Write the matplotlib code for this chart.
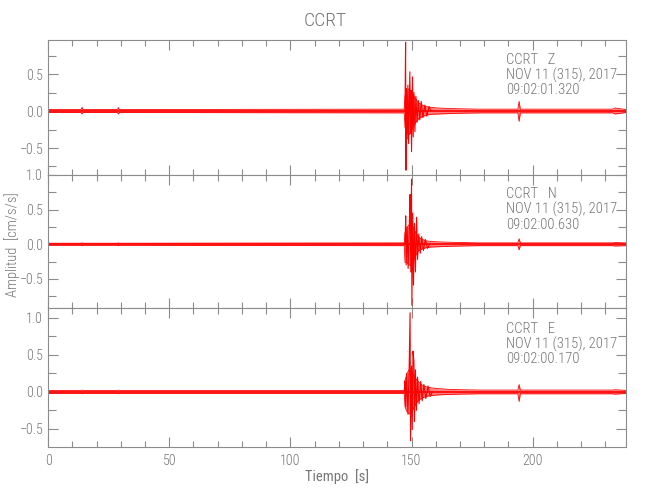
import matplotlib
matplotlib.use("Agg")
import matplotlib.pyplot as plt
from matplotlib import font_manager
from matplotlib.ticker import MultipleLocator

# pick a narrow face if there is one (the original uses a thin vector font)
installed = {f.name for f in font_manager.fontManager.ttflist}
for name in ["Liberation Sans Narrow", "Roboto Condensed", "Open Sans Condensed",
             "Noto Sans Condensed", "Liberation Sans"]:
    if name in installed:
        break
narrow = name in ("Liberation Sans Narrow", "Roboto Condensed",
                  "Open Sans Condensed", "Noto Sans Condensed")
plt.rcParams["font.family"] = [name, "DejaVu Sans"]
plt.rcParams["font.weight"] = "light"
fs = 10 if narrow else 8.5

station = "CCRT"
date_line = "NOV 11 (315), 2017"
components = ["Z", "N", "E"]
start_times = ["09:02:01.320", "09:02:00.630", "09:02:00.170"]
ylims = [(-0.865, 0.96), (-0.92, 1.0), (-0.745, 1.135)]

# envelope of the dense noise band (time s, upper, lower)
env_t = [0, 13.6, 14.0, 14.4, 28.6, 29.0, 29.4, 147.0, 147.3, 148.0, 149.0,
         150.0, 151.0, 152.0, 153.0, 154.5, 156.0, 158.0, 161.0, 165.0,
         170.0, 178.0, 193.9, 194.4, 194.9, 233.0, 234.0, 238.5]
env_hi = {
    "Z": [0.02, 0.02, 0.05, 0.02, 0.02, 0.045, 0.02, 0.025, 0.20, 0.26, 0.30,
          0.26, 0.20, 0.15, 0.11, 0.08, 0.06, 0.05, 0.04, 0.035, 0.03, 0.025,
          0.025, 0.13, 0.025, 0.025, 0.04, 0.02],
    "N": [0.015, 0.015, 0.02, 0.015, 0.015, 0.02, 0.015, 0.02, 0.16, 0.24,
          0.28, 0.30, 0.22, 0.15, 0.10, 0.07, 0.05, 0.04, 0.035, 0.03, 0.025,
          0.02, 0.02, 0.08, 0.02, 0.02, 0.025, 0.02],
    "E": [0.02, 0.02, 0.025, 0.02, 0.02, 0.025, 0.02, 0.02, 0.15, 0.24, 0.30,
          0.28, 0.22, 0.17, 0.13, 0.09, 0.07, 0.055, 0.045, 0.035, 0.03, 0.025,
          0.025, 0.10, 0.025, 0.025, 0.03, 0.02],
}
env_lo = {
    "Z": [-0.02, -0.02, -0.04, -0.02, -0.02, -0.04, -0.02, -0.025, -0.22,
          -0.28, -0.32, -0.26, -0.19, -0.14, -0.10, -0.075, -0.055, -0.045,
          -0.04, -0.035, -0.03, -0.025, -0.025, -0.14, -0.025, -0.025, -0.04,
          -0.02],
    "N": [-0.015, -0.015, -0.02, -0.015, -0.015, -0.02, -0.015, -0.02, -0.26,
          -0.26, -0.30, -0.30, -0.22, -0.14, -0.09, -0.065, -0.05, -0.04,
          -0.035, -0.03, -0.025, -0.02, -0.02, -0.08, -0.02, -0.02, -0.025,
          -0.02],
    "E": [-0.02, -0.02, -0.025, -0.02, -0.02, -0.025, -0.02, -0.02, -0.20,
          -0.26, -0.30, -0.28, -0.21, -0.15, -0.11, -0.08, -0.06, -0.05,
          -0.04, -0.035, -0.03, -0.025, -0.025, -0.13, -0.025, -0.025, -0.03,
          -0.02],
}

# individual large swings of the main arrival and its coda
spike_t = {
    "Z": [147.3, 147.55, 147.7, 147.9, 148.2, 148.5, 148.8, 149.3, 149.6,
          149.8, 150.0, 150.4, 150.7, 151.0, 151.4, 151.8, 152.3, 152.8, 153.4,
          154.0, 154.7, 155.5, 156.3, 157.2, 158.0],
    "N": [147.3, 147.6, 147.8, 148.2, 148.6, 149.1, 149.4, 149.7, 150.0,
          150.15, 150.5, 150.8, 151.2, 151.6, 152.1, 152.5, 153.0, 153.6,
          154.2, 154.9, 155.7, 156.6, 157.5],
    "E": [147.0, 147.3, 147.6, 148.0, 148.5, 149.0, 149.4, 149.6, 150.0,
          150.3, 150.6, 151.0, 151.2, 151.6, 152.0, 152.5, 153.1, 153.8,
          154.4, 155.1, 155.9, 156.8, 157.7, 158.6],
}
spike_v = {
    "Z": [0.0, 0.93, -0.80, 0.30, -0.38, 0.35, -0.44, 0.53, -0.30, 0.28,
          -0.55, 0.46, -0.35, 0.25, -0.28, 0.20, -0.15, 0.14, -0.12, 0.13,
          -0.09, 0.08, -0.07, 0.06, 0.0],
    "N": [0.0, 0.41, -0.30, 0.25, -0.35, 0.30, 0.72, -0.40, 0.94, -0.88,
          0.45, -0.59, 0.30, -0.40, 0.39, -0.22, 0.15, -0.13, 0.11, -0.09,
          0.07, -0.06, 0.0],
    "E": [0.0, 0.15, -0.20, 0.25, -0.30, 0.30, 1.07, -0.66, 0.35, -0.51,
          0.55, 0.41, -0.40, 0.30, -0.25, 0.20, -0.16, 0.14, -0.12, 0.10,
          -0.09, 0.08, -0.06, 0.0],
}

grey = "#8c8c8c"
text_grey = "#767676"

fig = plt.figure(figsize=(6.5, 5), dpi=100)
rects = [(0.074, 0.650, 0.889, 0.270),
         (0.074, 0.384, 0.889, 0.266),
         (0.074, 0.106, 0.889, 0.278)]

axes = []
for i, comp in enumerate(components):
    ax = fig.add_axes(rects[i])
    ax.fill_between(env_t, env_lo[comp], env_hi[comp], color="red",
                    alpha=0.5, lw=0)
    ax.plot(env_t, env_hi[comp], color="red", lw=0.6)
    ax.plot(env_t, env_lo[comp], color="red", lw=0.6)
    ax.plot(spike_t[comp], spike_v[comp], color="red", lw=0.8)
    ax.axhline(0, color="red", lw=1.2)

    ax.set_xlim(0, 238.5)
    ax.set_ylim(*ylims[i])
    ax.xaxis.set_major_locator(MultipleLocator(50))
    ax.xaxis.set_minor_locator(MultipleLocator(10))
    ax.yaxis.set_major_locator(MultipleLocator(0.5))
    ax.yaxis.set_minor_locator(MultipleLocator(0.25))
    ax.yaxis.set_major_formatter("{x:.1f}")
    ax.tick_params(which="both", direction="in", top=True, right=True,
                   color=grey, labelcolor=text_grey, labelsize=fs)
    ax.tick_params(which="major", length=7, width=0.8)
    ax.tick_params(which="minor", length=4, width=0.8)
    ax.tick_params(axis="y", which="minor", length=6)
    ax.tick_params(axis="x", pad=5)
    for s in ax.spines.values():
        s.set_color(grey)
        s.set_linewidth(0.8)
    if i < 2:
        ax.tick_params(labelbottom=False)
    ax.text(0.793, 0.74, f"{station}   {comp}\n{date_line}\n{start_times[i]}",
            transform=ax.transAxes, ha="left", va="center", fontsize=fs + 0.5,
            color=text_grey, linespacing=1.05)
    axes.append(ax)

axes[-1].set_xlabel("Tiempo  [s]", color=text_grey, fontsize=fs + 0.5,
                    labelpad=1)
fig.text(0.019, 0.51, "Amplitud  [cm/s/s]", rotation=90, ha="center",
         va="center", color=text_grey, fontsize=fs + 0.5)
fig.text(0.5, 0.958, station, ha="center", va="center", color=text_grey,
         fontsize=fs + 4)

fig.savefig("out.png", dpi=100)
